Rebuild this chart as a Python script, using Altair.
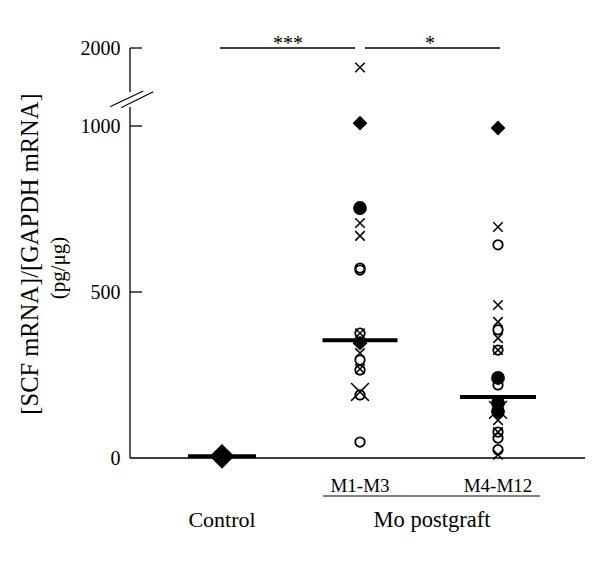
import altair as alt
import pandas as pd

# ---------------- data ----------------
groups = ["Control", "M1-M3", "M4-M12"]

control_diamond = [5]

m13_cross = [1750, 708, 669, 376, 316, 268]
m13_circle = [750, 572, 566, 376, 295, 265, 190, 48]
m13_dot = [753]
m13_diamond = [1036, 346]
m13_bigx = [199]

m412_cross = [696, 461, 410, 361, 325, 114, 78, 10]
m412_circle = [642, 386, 325, 220, 150, 136, 78, 60, 25]
m412_dot = [241, 166, 140]
m412_diamond = [994]
m412_bigx = [145]

medians = [5, 355, 184]
median_len = [68, 75, 76]

y_tick_values = [0, 500, 1000, 2000]
y_tick_marks = [500, 1000, 2000]
axis_seg_start = [0, 1436]
axis_seg_end = [1244, 2000]

sig_labels = ["***", "*"]
sub_labels = ["M1-M3", "M4-M12"]
group_title = "Mo postgraft"
y_title_1 = "[SCF mRNA]/[GAPDH mRNA]"
y_title_2 = "(pg/μg)"

rows = []
def add(group, marker, vals):
    for v in vals:
        rows.append({"group": group, "marker": marker, "value": v})

add("Control", "bigdiamond", control_diamond)
add("M1-M3", "x", m13_cross)
add("M1-M3", "circle", m13_circle)
add("M1-M3", "dot", m13_dot)
add("M1-M3", "diamond", m13_diamond)
add("M1-M3", "bigx", m13_bigx)
add("M4-M12", "x", m412_cross)
add("M4-M12", "circle", m412_circle)
add("M4-M12", "dot", m412_dot)
add("M4-M12", "diamond", m412_diamond)
add("M4-M12", "bigx", m412_bigx)
pts = pd.DataFrame(rows)

med_df = pd.DataFrame({"group": groups, "value": medians, "len": median_len})
tick_df = pd.DataFrame({"value": y_tick_marks})
seg_df = pd.DataFrame({"value": axis_seg_start, "value2": axis_seg_end})
sub_df = pd.DataFrame({"group": sub_labels})
ctrl_df = pd.DataFrame({"group": ["Control"]})
br1 = pd.DataFrame({"g1": ["Control"], "g2": ["M1-M3"], "value": [2000]})
br2 = pd.DataFrame({"g1": ["M1-M3"], "g2": ["M4-M12"], "value": [2000]})
one = pd.DataFrame({"a": [0]})

# ---------------- layout ----------------
W, H = 455, 428
FONT = "Liberation Serif"
XPATH = "M-1,-1L1,1M-1,1L1,-1"

xscale = alt.Scale(type="point", domain=groups, range=[92, 368], padding=0)
yscale = alt.Scale(domain=[0, 1000, 2000], range=[H, 96, 18], nice=False, zero=False)
yaxis = alt.Axis(values=y_tick_values, ticks=False, domain=False, grid=False,
                 labelFont=FONT, labelFontSize=20, labelColor="black",
                 labelPadding=10, title=None, format="d")


def X(field="group"):
    return alt.X(f"{field}:N", scale=xscale, axis=None)


def Y(field="value"):
    return alt.Y(f"{field}:Q", scale=yscale, axis=yaxis)


def pts_layer(marker, **kw):
    return alt.Chart(pts).transform_filter(alt.datum.marker == marker).mark_point(
        color="black", opacity=1, **kw).encode(x=X(), y=Y())


layers = []
# axis lines
layers.append(alt.Chart(seg_df).mark_rule(color="black", strokeWidth=1.3).encode(
    x=alt.value(0), y=Y(), y2="value2"))
layers.append(alt.Chart(tick_df).mark_rule(color="black", strokeWidth=1.3).encode(
    x=alt.value(0), x2=alt.value(12), y=Y()))
layers.append(alt.Chart(one).mark_rule(color="black", strokeWidth=1.3).encode(
    x=alt.value(0), x2=alt.value(W), y=alt.value(H)))
# break marks
layers.append(alt.Chart(one).mark_rule(color="black", strokeWidth=1.2).encode(
    x=alt.value(-20), y=alt.value(76.7), x2=alt.value(13.3), y2=alt.value(61)))
layers.append(alt.Chart(one).mark_rule(color="black", strokeWidth=1.2).encode(
    x=alt.value(-9), y=alt.value(77.7), x2=alt.value(23.3), y2=alt.value(61.7)))

# points
layers.append(pts_layer("circle", shape="circle", size=90, filled=False, strokeWidth=1.8))
layers.append(pts_layer("x", shape=XPATH, size=90, filled=False, strokeWidth=1.5))
layers.append(pts_layer("bigx", shape=XPATH, size=320, filled=False, strokeWidth=1.5))
layers.append(pts_layer("dot", shape="circle", size=190, filled=True))
layers.append(pts_layer("diamond", shape="diamond", size=220, filled=True))
layers.append(pts_layer("bigdiamond", shape="diamond", size=620, filled=True))

# medians
layers.append(alt.Chart(med_df).mark_tick(color="black", thickness=4, opacity=1).encode(
    x=X(), y=Y(), size=alt.Size("len:Q", scale=None)))

# significance brackets
layers.append(alt.Chart(br1).mark_rule(color="black", strokeWidth=1.3,
                                       xOffset=-2, x2Offset=-5).encode(
    x=X("g1"), x2="g2", y=Y()))
layers.append(alt.Chart(br2).mark_rule(color="black", strokeWidth=1.3,
                                       xOffset=5, x2Offset=2).encode(
    x=X("g1"), x2="g2", y=Y()))
layers.append(alt.Chart(one).mark_text(font=FONT, fontSize=20, baseline="alphabetic",
                                       align="center", color="black").encode(
    x=alt.value(158), y=alt.value(20), text=alt.value(sig_labels[0])))
layers.append(alt.Chart(one).mark_text(font=FONT, fontSize=20, baseline="alphabetic",
                                       align="center", color="black").encode(
    x=alt.value(300), y=alt.value(20), text=alt.value(sig_labels[1])))

# x labels
layers.append(alt.Chart(sub_df).mark_text(font=FONT, fontSize=19, baseline="alphabetic",
                                          align="center", color="black").encode(
    x=X(), y=alt.value(462), text="group:N"))
layers.append(alt.Chart(one).mark_rule(color="black", strokeWidth=1.2).encode(
    x=alt.value(193), x2=alt.value(410), y=alt.value(466)))
layers.append(alt.Chart(ctrl_df).mark_text(font=FONT, fontSize=22, baseline="alphabetic",
                                           align="center", color="black").encode(
    x=X(), y=alt.value(497), text="group:N"))
layers.append(alt.Chart(one).mark_text(font=FONT, fontSize=22.5, baseline="alphabetic",
                                       align="center", color="black").encode(
    x=alt.value(302), y=alt.value(497), text=alt.value(group_title)))

# y title
layers.append(alt.Chart(one).mark_text(font=FONT, fontSize=24.5, baseline="middle",
                                       align="center", angle=270, color="black").encode(
    x=alt.value(-99), y=alt.value(224), text=alt.value(y_title_1)))
layers.append(alt.Chart(one).mark_text(font=FONT, fontSize=21, baseline="middle",
                                       align="center", angle=270, color="black").encode(
    x=alt.value(-71), y=alt.value(238), text=alt.value(y_title_2)))

chart = alt.layer(*layers).properties(
    width=W, height=H,
    background="white",
    autosize=alt.AutoSizeParams(type="none"),
    padding={"left": 122, "top": 22, "right": 5, "bottom": 90},
).configure_view(stroke=None)

chart.save("out.html", embed_options={"renderer": "svg", "actions": False})
